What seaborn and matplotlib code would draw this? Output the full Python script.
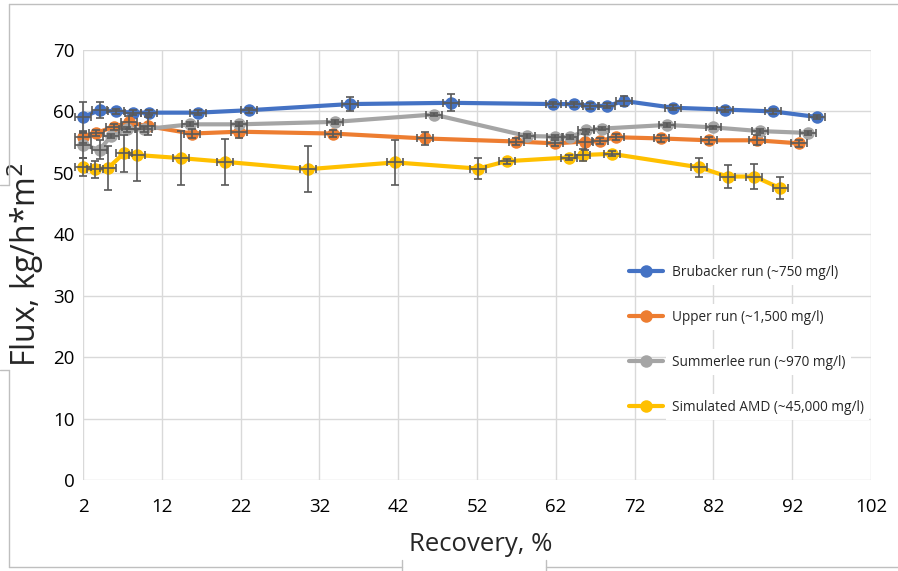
import matplotlib
matplotlib.use("Agg")
import matplotlib.pyplot as plt
from matplotlib.lines import Line2D
import numpy as np
import pandas as pd
import seaborn as sns

# Recovery (%) and permeate flux (kg/h*m^2) for each run
rec_brubacker = [2.0, 4.1, 6.2, 8.3, 10.4, 16.6, 23.1, 35.9, 48.7, 61.7, 64.3, 66.4, 68.5, 70.7, 76.9, 83.5, 89.6, 95.1]
flux_brubacker = [59.1, 60.2, 60.0, 59.8, 59.8, 59.8, 60.2, 61.2, 61.4, 61.2, 61.2, 60.9, 60.9, 61.7, 60.6, 60.3, 60.0, 59.1]
err_brubacker = [2.5, 1.3, 0.4, 0.4, 0.4, 0.4, 0.4, 1.1, 1.4, 0.4, 0.4, 0.5, 0.4, 0.8, 0.4, 0.4, 0.4, 0.4]

rec_upper = [2.0, 3.7, 5.9, 7.8, 10.2, 15.8, 21.8, 33.7, 45.4, 57.0, 61.9, 65.7, 67.6, 69.6, 75.4, 81.4, 87.5, 92.9]
flux_upper = [55.8, 56.5, 57.5, 58.2, 57.6, 56.4, 56.7, 56.4, 55.6, 55.1, 54.8, 55.1, 55.2, 55.8, 55.6, 55.3, 55.3, 54.8]
err_upper = [1.0, 0.5, 0.5, 1.0, 1.5, 0.8, 1.0, 0.5, 1.0, 0.5, 0.5, 1.3, 0.5, 0.5, 0.5, 0.6, 0.8, 0.6]

rec_summerlee = [2.0, 4.1, 5.6, 7.6, 9.7, 15.6, 21.8, 34.0, 46.5, 58.3, 61.9, 63.8, 65.8, 67.8, 76.1, 82.0, 87.9, 94.0]
flux_summerlee = [54.5, 53.8, 56.0, 57.1, 57.1, 57.9, 57.9, 58.3, 59.5, 56.0, 55.9, 55.8, 56.9, 57.2, 57.8, 57.4, 56.8, 56.5]
err_summerlee = [2.0, 1.5, 0.4, 0.4, 0.4, 0.3, 0.3, 0.3, 0.3, 0.3, 0.3, 0.3, 0.3, 0.3, 0.3, 0.3, 0.3, 0.3]

rec_amd = [2.0, 3.5, 5.2, 7.2, 8.9, 14.4, 20.0, 30.6, 41.6, 52.1, 55.8, 63.7, 65.4, 69.1, 80.2, 83.8, 87.2, 90.5]
flux_amd = [51.0, 50.6, 50.8, 53.2, 52.9, 52.4, 51.8, 50.6, 51.7, 50.7, 51.9, 52.5, 52.9, 53.1, 50.9, 49.4, 49.4, 47.5]
err_amd = [1.5, 1.4, 3.6, 3.0, 4.2, 4.4, 3.7, 3.7, 3.7, 1.7, 0.4, 0.4, 1.0, 0.4, 1.5, 1.8, 2.1, 1.8]

rec_err = 1.0  # horizontal uncertainty on recovery, %

series_names = [
    "Brubacker run (~750 mg/l)",
    "Upper run (~1,500 mg/l)",
    "Summerlee run (~970 mg/l)",
    "Simulated AMD (~45,000 mg/l)",
]
series_colors = ["#4472C4", "#ED7D31", "#A5A5A5", "#FFC000"]

x_ticks = [2, 12, 22, 32, 42, 52, 62, 72, 82, 92, 102]
y_ticks = [0, 10, 20, 30, 40, 50, 60, 70]

sns.set_theme(style="white")
plt.rcParams["font.family"] = ["Open Sans", "DejaVu Sans"]

frames = []
for name, xs, ys in zip(series_names,
                        [rec_brubacker, rec_upper, rec_summerlee, rec_amd],
                        [flux_brubacker, flux_upper, flux_summerlee, flux_amd]):
    frames.append(pd.DataFrame({"Recovery": xs, "Flux": ys, "Run": name}))
df = pd.concat(frames, ignore_index=True)

fig = plt.figure(figsize=(8.98, 5.71), dpi=100)
ax = fig.add_axes([83 / 898, 1 - 480 / 571, 788 / 898, 430 / 571])

sns.lineplot(data=df, x="Recovery", y="Flux", hue="Run", hue_order=series_names,
             palette=series_colors, marker="o", markersize=9, markeredgewidth=0,
             linewidth=3.0, sort=False, estimator=None, legend=False, ax=ax,
             clip_on=False, zorder=3)

for xs, ys, es in zip([rec_brubacker, rec_upper, rec_summerlee, rec_amd],
                      [flux_brubacker, flux_upper, flux_summerlee, flux_amd],
                      [err_brubacker, err_upper, err_summerlee, err_amd]):
    ax.errorbar(xs, ys, xerr=rec_err, yerr=es, fmt="none", ecolor="#595959",
                elinewidth=1.2, capsize=3, capthick=1.2, zorder=4, clip_on=False)

ax.set_xlim(2, 102)
ax.set_ylim(0, 70)
ax.set_xticks(x_ticks)
ax.set_yticks(y_ticks)
ax.grid(True, color="#D9D9D9", linewidth=1.0)
ax.set_axisbelow(True)
for s in ax.spines.values():
    s.set_visible(False)
ax.tick_params(axis="both", length=0, labelsize=13.5, colors="#000000")
ax.tick_params(axis="x", pad=13)
ax.tick_params(axis="y", pad=6)

ax.set_xlabel("Recovery, %", fontsize=18.5)
ax.set_ylabel("Flux, kg/h*m$^2$", fontsize=23)
ax.xaxis.set_label_coords(0.505, -0.12)
ax.yaxis.set_label_coords(-0.047, 0.5)

handles = [Line2D([0], [0], color=c, linewidth=3.0, marker="o", markersize=9,
                  markeredgewidth=0) for c in series_colors]
leg = ax.legend(handles, series_names, loc="upper left",
                bbox_to_anchor=((622 - 83) / 788, (480 - 258) / 430),
                frameon=False, fontsize=9.8, handlelength=2.5, handletextpad=0.65,
                labelspacing=2.2, borderpad=0)
for t in leg.get_texts():
    t.set_bbox(dict(facecolor="white", edgecolor="none", pad=4))
leg.set_zorder(6)

# outer panel borders
line_kw = dict(color="#BFBFBF", linewidth=1.0, transform=fig.transFigure)
H, W = 571.0, 898.0
def seg(x0, y0, x1, y1):
    fig.add_artist(Line2D([x0 / W, x1 / W], [1 - y0 / H, 1 - y1 / H], **line_kw))
seg(9, 4, 898, 4)
seg(9, 4, 9, 185)
seg(0, 185, 9, 185)
seg(0, 370, 9, 370)
seg(9, 370, 9, 567)
seg(9, 567, 402, 567)
seg(402, 560, 402, 571)
seg(546, 560, 546, 571)
seg(546, 567, 898, 567)

fig.savefig("out.png", dpi=100)
